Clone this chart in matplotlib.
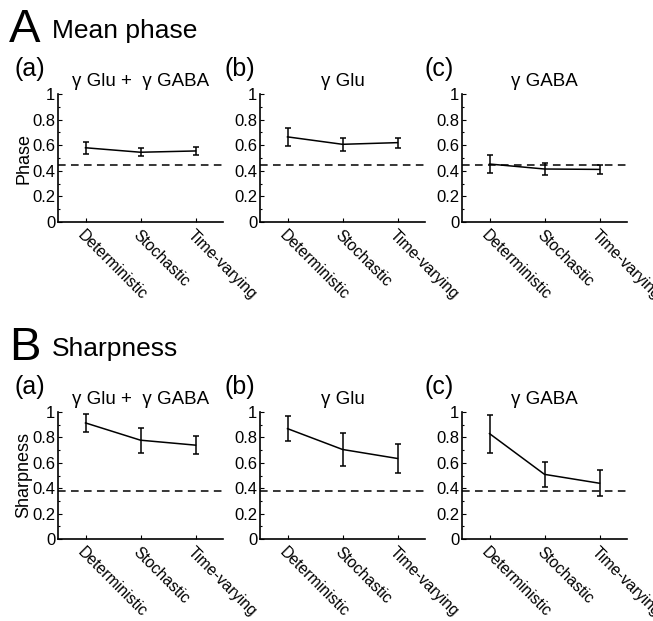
import matplotlib
matplotlib.use("Agg")
import matplotlib.pyplot as plt
from matplotlib.ticker import MultipleLocator

plt.rcParams['font.family'] = ['Liberation Sans', 'DejaVu Sans']

conditions = ['Deterministic', 'Stochastic', 'Time-varying']
panel_titles = ['\u03b3 Glu +  \u03b3 GABA', '\u03b3 Glu', '\u03b3 GABA']
panel_letters = ['(a)', '(b)', '(c)']

# A: mean phase
phase_mean = [[0.58, 0.545, 0.555],
              [0.665, 0.607, 0.62],
              [0.453, 0.414, 0.411]]
phase_err = [[0.048, 0.03, 0.03],
             [0.073, 0.05, 0.04],
             [0.072, 0.046, 0.038]]
phase_ref = 0.445

# B: sharpness
sharp_mean = [[0.914, 0.778, 0.739],
              [0.869, 0.705, 0.634],
              [0.83, 0.509, 0.439]]
sharp_err = [[0.072, 0.098, 0.072],
             [0.098, 0.13, 0.115],
             [0.149, 0.10, 0.104]]
sharp_ref = 0.38

fig = plt.figure(figsize=(6.53, 6.21), dpi=100)

W, H = 653, 621
lefts = [58, 260, 462]
axw = 165


def make_row(top_px, bottom_px, means, errs, ref, ylabel, big, heading, letter_y):
    for i in range(3):
        ax = fig.add_axes([lefts[i] / W, 1 - bottom_px / H, axw / W, (bottom_px - top_px) / H])
        x = [1, 2, 3]
        ax.axhline(ref, color='black', lw=1.1, ls=(0, (5, 3.5)))
        ax.errorbar(x, means[i], yerr=errs[i], color='black', lw=1.1,
                    capsize=2.5, capthick=1.1, elinewidth=1.1)
        ax.set_xlim(0.5, 3.5)
        ax.set_ylim(0, 1)
        ax.set_yticks([0, 0.2, 0.4, 0.6, 0.8, 1])
        ax.set_yticklabels(['0', '0.2', '0.4', '0.6', '0.8', '1'])
        ax.yaxis.set_minor_locator(MultipleLocator(0.1))
        ax.set_xticks(x)
        ax.set_xticklabels(conditions, rotation=-45, ha='left', va='top',
                           rotation_mode='anchor')
        ax.tick_params(direction='in', labelsize=12, length=3, width=0.8, pad=2)
        ax.tick_params(which='minor', direction='in', length=1.5, width=0.8)
        ax.tick_params(axis='x', pad=4, labelsize=11.3)
        ax.spines['top'].set_visible(False)
        ax.spines['right'].set_visible(False)
        ax.spines['left'].set_linewidth(1.2)
        ax.spines['bottom'].set_linewidth(1.2)
        ax.set_title(panel_titles[i], fontsize=13.5, pad=6)
        if i == 0:
            ax.set_ylabel(ylabel, fontsize=13, labelpad=0)
    letter_x = [14, 224, 425]
    for i in range(3):
        fig.text(letter_x[i] / W, 1 - letter_y / H, panel_letters[i], fontsize=18,
                 ha='left', va='center')
    fig.text(9 / W, 1 - (letter_y - 39) / H, big, fontsize=34, ha='left', va='center')
    fig.text(52 / W, 1 - (letter_y - 38) / H, heading, fontsize=19, ha='left', va='center')


make_row(94, 222, phase_mean, phase_err, phase_ref, 'Phase', 'A', 'Mean phase', 69)
make_row(412, 539, sharp_mean, sharp_err, sharp_ref, 'Sharpness', 'B', 'Sharpness', 387)

fig.savefig('out.png', dpi=100)
